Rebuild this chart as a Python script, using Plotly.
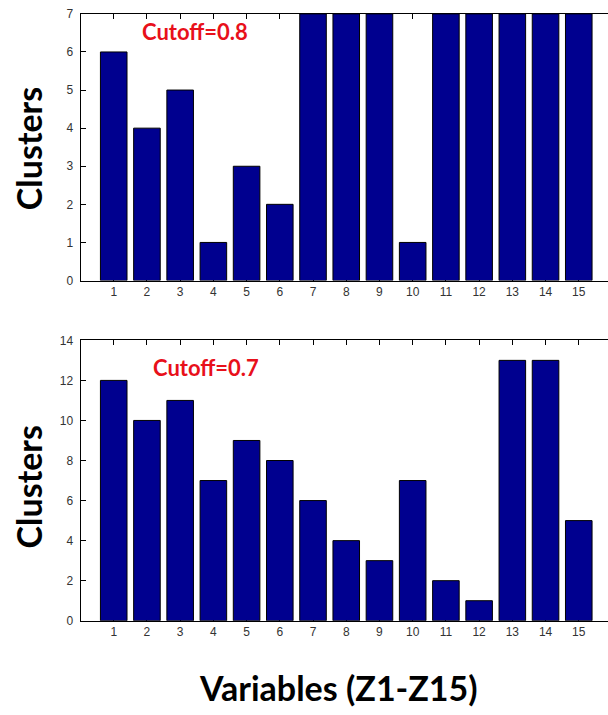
import plotly.graph_objects as go

# Variable indices Z1..Z15
variables = list(range(1, 16))
tick_labels = [str(v) for v in variables]

# Number of clusters per variable at each cutoff
clusters_cut08 = [6, 4, 5, 1, 3, 2, 7, 7, 7, 1, 7, 7, 7, 7, 7]
clusters_cut07 = [12, 10, 11, 7, 9, 8, 6, 4, 3, 7, 2, 1, 13, 13, 5]

BAR_COLOR = "#00008f"
W, H = 608, 715

fig = go.Figure()
fig.add_trace(go.Bar(x=variables, y=clusters_cut08, width=0.8,
                     marker=dict(color=BAR_COLOR, line=dict(color="#000000", width=1)),
                     xaxis="x", yaxis="y", showlegend=False))
fig.add_trace(go.Bar(x=variables, y=clusters_cut07, width=0.8,
                     marker=dict(color=BAR_COLOR, line=dict(color="#000000", width=1)),
                     xaxis="x2", yaxis="y2", showlegend=False))

x_left = 80.5 / W
tick_font = dict(family="Liberation Sans, Arial, sans-serif", size=12, color="#333333")

def xaxis_cfg(anchor):
    return dict(domain=[x_left, 1], range=[0, 15.88], anchor=anchor,
                tickmode="array", tickvals=variables, ticktext=tick_labels,
                ticks="inside", ticklen=5, tickcolor="#000000",
                showline=True, linecolor="#000000", linewidth=1, mirror="ticks",
                showgrid=False, zeroline=False, tickfont=tick_font,
                layer="below traces")

def yaxis_cfg(anchor, dom, top, step):
    return dict(domain=dom, range=[0, top], anchor=anchor,
                tickmode="linear", tick0=0, dtick=step,
                ticks="inside", ticklen=5, tickcolor="#000000",
                showline=True, linecolor="#000000", linewidth=1,
                showgrid=False, zeroline=False, tickfont=tick_font,
                ticklabelstandoff=4, layer="below traces")

fig.update_layout(
    width=W, height=H,
    margin=dict(l=0, r=0, t=0, b=0),
    paper_bgcolor="white", plot_bgcolor="white",
    bargap=0.2,
    xaxis=xaxis_cfg("y"),
    yaxis=yaxis_cfg("x", [1 - 279 / H, 1 - 7 / H], 7, 1),
    xaxis2=xaxis_cfg("y2"),
    yaxis2=yaxis_cfg("x2", [1 - 626 / H, 1 - 340 / H], 14, 2),
)

title_font = dict(family="Lato, 'Open Sans', sans-serif", size=34, color="#000000")
cut_font = dict(family="Lato, 'Open Sans', sans-serif", size=22, color="#e8101a")

annotations = [
    dict(text="<b>Clusters</b>", x=28 / W, y=1 - 145 / H, textangle=-90, font=title_font),
    dict(text="<b>Clusters</b>", x=28 / W, y=1 - 490 / H, textangle=-90, font=title_font),
    dict(text="<b>Variables (Z1-Z15)</b>", x=338 / W, y=1 - 694 / H, font=title_font),
    dict(text="<b>Cutoff=0.8</b>", x=194.5 / W, y=1 - 25 / H, font=cut_font),
    dict(text="<b>Cutoff=0.7</b>", x=205.5 / W, y=1 - 368 / H, font=cut_font),
]
for a in annotations:
    fig.add_annotation(xref="paper", yref="paper", showarrow=False,
                       xanchor="center", yanchor="middle", **a)

fig.write_html("out.html")
